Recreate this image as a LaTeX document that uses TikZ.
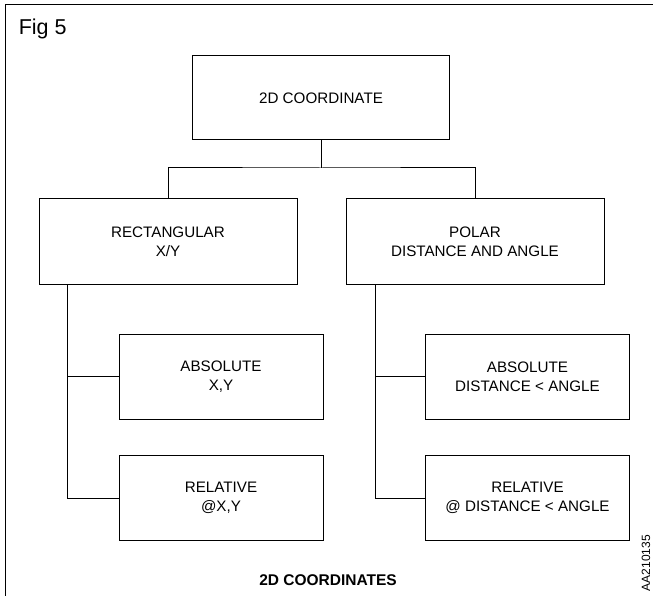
\documentclass[tikz,border=0pt]{standalone}
\usepackage{fontspec}
\setmainfont{Liberation Sans}
\usetikzlibrary{positioning}

\begin{document}
\begin{tikzpicture}[x=1pt,y=-1pt,line width=1pt,
  box/.style={draw,align=center,inner sep=0pt,font=\fontsize{15.2}{19}\selectfont},
  wide/.style={box,minimum width=258pt,minimum height=85pt},
  narrow/.style={box,minimum width=204pt,minimum height=85pt}]
\useasboundingbox (0,0) rectangle (653,596);
\draw (5,596)--(5,5)--(653,5);
\node[anchor=west,font=\fontsize{21.5}{22}\selectfont] (fig) at (15,29) {Fig 5};
% tree
\node[box,minimum width=257pt,minimum height=84pt] (top) at (321,98) {2D COORDINATE};
\node[wide] (rect) at (168,241.5) {RECTANGULAR\\X/Y};
\node[wide] (polar) at (475,241.5) {POLAR\\DISTANCE AND ANGLE};
\node[narrow] (rectabs) at (221,376.5) {ABSOLUTE\\X,Y};
\node[narrow] (rectrel) at (221,498) {RELATIVE\\@X,Y};
\node[narrow] (polabs) at (527.5,376.5) {ABSOLUTE\\DISTANCE < ANGLE};
\node[narrow] (polrel) at (527.5,498) {RELATIVE\\@ DISTANCE < ANGLE};
\coordinate (split) at (321,168);
\coordinate (rtrunk) at (67.5,284);
\coordinate (ptrunk) at (375,284);
\draw (top)--(split);
\draw (rect.north) |- (split) -| (polar.north);
\draw (rtrunk) |- (rectrel.west);
\draw (rtrunk |- rectabs.west)--(rectabs.west);
\draw (ptrunk) |- (polrel.west);
\draw (ptrunk |- polabs.west)--(polabs.west);
\node[font=\bfseries\fontsize{15.5}{16}\selectfont] (caption) at (328,580) {2D COORDINATES};
\node[rotate=90,font=\fontsize{12}{14}\selectfont] (code) at (646,563) {AA210135};
\end{tikzpicture}
\end{document}
